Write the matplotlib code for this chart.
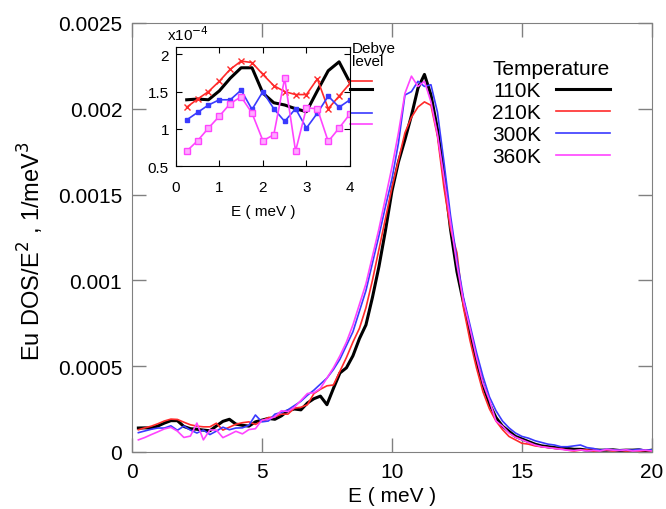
import matplotlib
matplotlib.use("Agg")
import matplotlib.pyplot as plt
import numpy as np

plt.rcParams['font.family'] = ['Liberation Sans', 'DejaVu Sans']

# Energy grid (meV)
energy = [0.25, 0.5, 0.75, 1.0, 1.25, 1.5, 1.75, 2.0, 2.25, 2.5, 2.75, 3.0, 3.25, 3.5, 3.75, 4.0,
          4.25, 4.5, 4.75, 5.0, 5.25, 5.5, 5.75, 6.0, 6.25, 6.5, 6.75, 7.0, 7.25, 7.5, 7.75, 8.0,
          8.25, 8.5, 8.75, 9.0, 9.25, 9.5, 9.75, 10.0, 10.25, 10.5, 10.75, 11.0, 11.25, 11.5, 11.75, 12.0,
          12.25, 12.5, 12.75, 13.0, 13.25, 13.5, 13.75, 14.0, 14.25, 14.5, 14.75, 15.0, 15.25, 15.5, 15.75, 16.0,
          16.25, 16.5, 16.75, 17.0, 17.25, 17.5, 17.75, 18.0, 18.25, 18.5, 18.75, 19.0, 19.25, 19.5, 19.75, 20.0]

# DOS/E^2 in units of 1e-4 1/meV^3
dos_110K = [1.39, 1.40, 1.39, 1.51, 1.68, 1.82, 1.82, 1.48, 1.35, 1.32, 1.27, 1.23, 1.51, 1.78, 1.90, 1.62,
            1.55, 1.50, 1.75, 1.85, 1.95, 1.90, 2.10, 2.40, 2.50, 2.45, 2.85, 3.10, 3.25, 2.75, 3.70, 4.60,
            4.90, 5.60, 6.60, 7.40, 9.00, 10.8, 12.9, 15.2, 16.9, 18.2, 19.6, 21.2, 22.0, 20.8, 18.8, 16.2,
            13.0, 10.5, 8.70, 7.00, 5.30, 3.90, 2.80, 2.00, 1.50, 1.20, 0.90, 0.75, 0.60, 0.45, 0.35, 0.30,
            0.25, 0.20, 0.20, 0.15, 0.15, 0.10, 0.12, 0.10, 0.10, 0.12, 0.08, 0.10, 0.10, 0.12, 0.05, 0.10]
dos_210K = [1.29, 1.40, 1.50, 1.64, 1.80, 1.91, 1.89, 1.73, 1.58, 1.50, 1.46, 1.46, 1.67, 1.27, 1.44, 1.61,
            1.70, 1.75, 1.60, 1.80, 2.00, 2.05, 2.20, 2.20, 2.55, 2.60, 2.75, 3.40, 3.65, 3.85, 3.90, 4.70,
            5.50, 6.40, 7.20, 8.40, 10.0, 11.8, 13.6, 15.4, 17.0, 18.6, 19.5, 20.1, 20.4, 20.2, 18.4, 15.4,
            13.0, 11.6, 8.40, 6.50, 4.90, 3.50, 2.50, 1.80, 1.30, 0.90, 0.70, 0.50, 0.45, 0.35, 0.30, 0.25,
            0.20, 0.18, 0.10, 0.05, 0.10, 0.12, 0.05, 0.08, 0.10, 0.05, 0.10, 0.05, 0.08, 0.05, 0.08, 0.05]
dos_300K = [1.12, 1.22, 1.32, 1.39, 1.39, 1.52, 1.26, 1.50, 1.27, 1.10, 1.27, 1.01, 1.21, 1.44, 1.29, 1.39,
            1.40, 1.55, 2.15, 1.75, 1.80, 2.20, 2.30, 2.45, 2.70, 2.95, 3.30, 3.60, 3.95, 4.30, 4.80, 5.40,
            6.20, 7.00, 8.20, 9.40, 11.0, 12.6, 14.3, 15.9, 18.0, 20.8, 21.0, 21.6, 21.3, 21.4, 19.8, 16.9,
            13.8, 11.2, 9.00, 7.40, 5.80, 4.40, 3.20, 2.40, 1.80, 1.40, 1.10, 0.90, 0.80, 0.65, 0.55, 0.45,
            0.40, 0.30, 0.30, 0.35, 0.40, 0.25, 0.20, 0.10, 0.15, 0.12, 0.10, 0.12, 0.10, 0.15, 0.10, 0.12]
dos_360K = [0.70, 0.84, 1.01, 1.17, 1.34, 1.43, 1.21, 0.84, 0.92, 1.68, 0.70, 1.28, 1.27, 0.83, 1.01, 1.20,
            1.05, 1.30, 1.35, 1.85, 1.90, 2.05, 2.40, 2.35, 2.60, 3.00, 3.40, 3.45, 3.70, 4.30, 4.90, 5.60,
            6.40, 7.40, 8.60, 9.80, 11.4, 13.0, 14.8, 16.6, 18.6, 20.9, 21.9, 21.3, 21.6, 20.4, 18.5, 16.0,
            13.4, 10.9, 8.80, 7.20, 5.50, 4.00, 3.00, 1.80, 1.50, 1.10, 0.85, 0.70, 0.55, 0.40, 0.30, 0.25,
            0.20, 0.15, 0.10, 0.08, 0.12, 0.05, 0.10, 0.05, 0.15, 0.10, 0.08, 0.12, 0.05, 0.08, 0.10, 0.05]

labels = ['110K', '210K', '300K', '360K']
debye_levels = [1.54, 1.64, 1.21, 1.06]
n_inset = 16

colors = ['#000000', '#ff2a2a', '#3a3aff', '#ff44ff']
widths = [2.2, 1.2, 1.2, 1.2]
inset_markers = [None, 'x', 's', 's']

series = [dos_110K, dos_210K, dos_300K, dos_360K]
E = np.array(energy)
scale = 1e-4

fig = plt.figure(figsize=(6.66, 5.10), dpi=100)
ax = fig.add_axes([0.198, 0.112, 0.781, 0.841])

for vals, lab, c, w in zip(series, labels, colors, widths):
    ax.plot(E, np.array(vals) * scale, color=c, lw=w, label=lab)

ax.set_xlim(0, 20)
ax.set_ylim(0, 0.0025)
ax.set_xticks([0, 5, 10, 15, 20])
ax.set_yticks([0, 0.0005, 0.001, 0.0015, 0.002, 0.0025])
ax.set_yticklabels(['0', '0.0005', '0.001', '0.0015', '0.002', '0.0025'])
ax.tick_params(direction='in', top=True, right=True, length=10, width=1, color='#808080',
               labelsize=15, pad=7)
for s in ax.spines.values():
    s.set_color('#808080')
ax.set_xlabel('E ( meV )', fontsize=15, labelpad=4)
ax.set_ylabel('Eu DOS/E$^2$ , 1/meV$^3$', fontsize=17)
ax.yaxis.set_label_coords(-0.165, 0.47)

leg = ax.legend(title='Temperature', loc='upper right', bbox_to_anchor=(0.955, 0.96),
                frameon=False, markerfirst=False, fontsize=15, title_fontsize=15,
                handlelength=2.6, labelspacing=0.15, handletextpad=0.7)
for t in leg.get_texts():
    t.set_ha('right')

# Inset
axi = fig.add_axes([0.264, 0.6725, 0.2615, 0.2335])
for vals, c, w, m, dl in zip(series, colors, widths, inset_markers, debye_levels):
    kw = {}
    if m == 's' and c == colors[3]:
        kw = dict(markerfacecolor='#ffaaff', markeredgecolor=c, markersize=4, markeredgewidth=1)
    elif m == 's':
        kw = dict(markersize=3)
    elif m == 'x':
        kw = dict(markersize=4, markeredgewidth=1)
    axi.plot(E[:n_inset], vals[:n_inset], color=c, lw=w, marker=m, **kw)
    axi.plot([4.0, 4.5], [dl, dl], color=c, lw=w, clip_on=False)

axi.set_xlim(0, 4)
axi.set_ylim(0.5, 2.1)
axi.set_xticks([0, 1, 2, 3, 4])
axi.set_yticks([0.5, 1, 1.5, 2])
axi.set_yticklabels(['0.5', '1', '1.5', '2'])
axi.tick_params(direction='in', top=True, right=True, length=4, labelsize=11, pad=5)
axi.tick_params(axis='x', pad=10)
axi.set_xlabel('E ( meV )', fontsize=11, labelpad=7)
axi.text(-0.05, 1.03, 'x10$^{-4}$', transform=axi.transAxes, fontsize=11, ha='left', va='bottom')
axi.text(4.05, 2.0, 'Debye\nlevel', fontsize=11, ha='left', va='center', linespacing=0.95)

fig.savefig('out.png', dpi=100)
